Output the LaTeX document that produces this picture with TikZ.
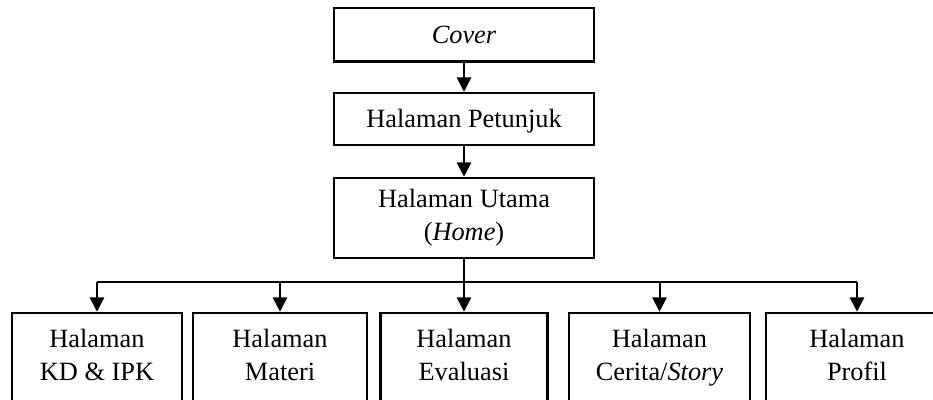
\documentclass[tikz,border=0pt]{standalone}
\usepackage{fontspec}
\setmainfont{Liberation Serif}
\usepackage{tikz}
\usetikzlibrary{arrows.meta}
\tikzset{
    pagebox/.style={draw=black, line width=1.2pt, align=center, inner sep=0pt,
        font=\fontsize{12}{15}\selectfont,
        execute at begin node=\rule{0pt}{11pt},
        execute at end node=\rule[-3pt]{0pt}{3pt}},
    link/.style={draw=black, line width=0.9pt,
        -{Triangle[length=6.5pt,width=6.5pt]}},
    branch/.style={draw=black, line width=0.6pt},
}

\begin{document}
\begin{tikzpicture}[x=0.016cm, y=-0.016cm]
		\useasboundingbox (0,0) rectangle (933,399);
		% top column
		\node[pagebox, minimum width=4.16cm, minimum height=0.85cm] (cover) at (464,34.7) {\textit{Cover}};
		\node[pagebox, minimum width=4.16cm, minimum height=0.83cm] (petunjuk) at (464,119) {Halaman Petunjuk};
		\node[pagebox, minimum width=4.16cm, minimum height=1.28cm] (utama) at (464,218) {Halaman Utama\\(\textit{Home})};
		\coordinate (hub) at (464,282);
		% bottom row
		\node[pagebox, minimum width=2.72cm, minimum height=1.44cm] (kdipk) at (97,358) {Halaman\\KD \& IPK};
		\node[pagebox, minimum width=2.78cm, minimum height=1.44cm] (materi) at (280,358) {Halaman\\Materi};
		\node[pagebox, minimum width=2.67cm, minimum height=1.44cm] (evaluasi) at (464,358) {Halaman\\Evaluasi};
		\node[pagebox, minimum width=2.9cm, minimum height=1.44cm] (cerita) at (659.5,358) {Halaman\\Cerita/\textit{Story}};
		\node[pagebox, minimum width=2.91cm, minimum height=1.44cm] (profil) at (857,358) {Halaman\\Profil};
		% connectors
		\draw[link] (cover) -- (petunjuk);
		\draw[link] (petunjuk) -- (utama);
		\draw[branch] (utama) -- (hub);
		\draw[branch] (hub -| kdipk) -- (hub -| profil);
		\foreach \p in {kdipk,materi,evaluasi,cerita,profil}
			\draw[link] (hub -| \p) -- (\p);
\end{tikzpicture}
\end{document}
